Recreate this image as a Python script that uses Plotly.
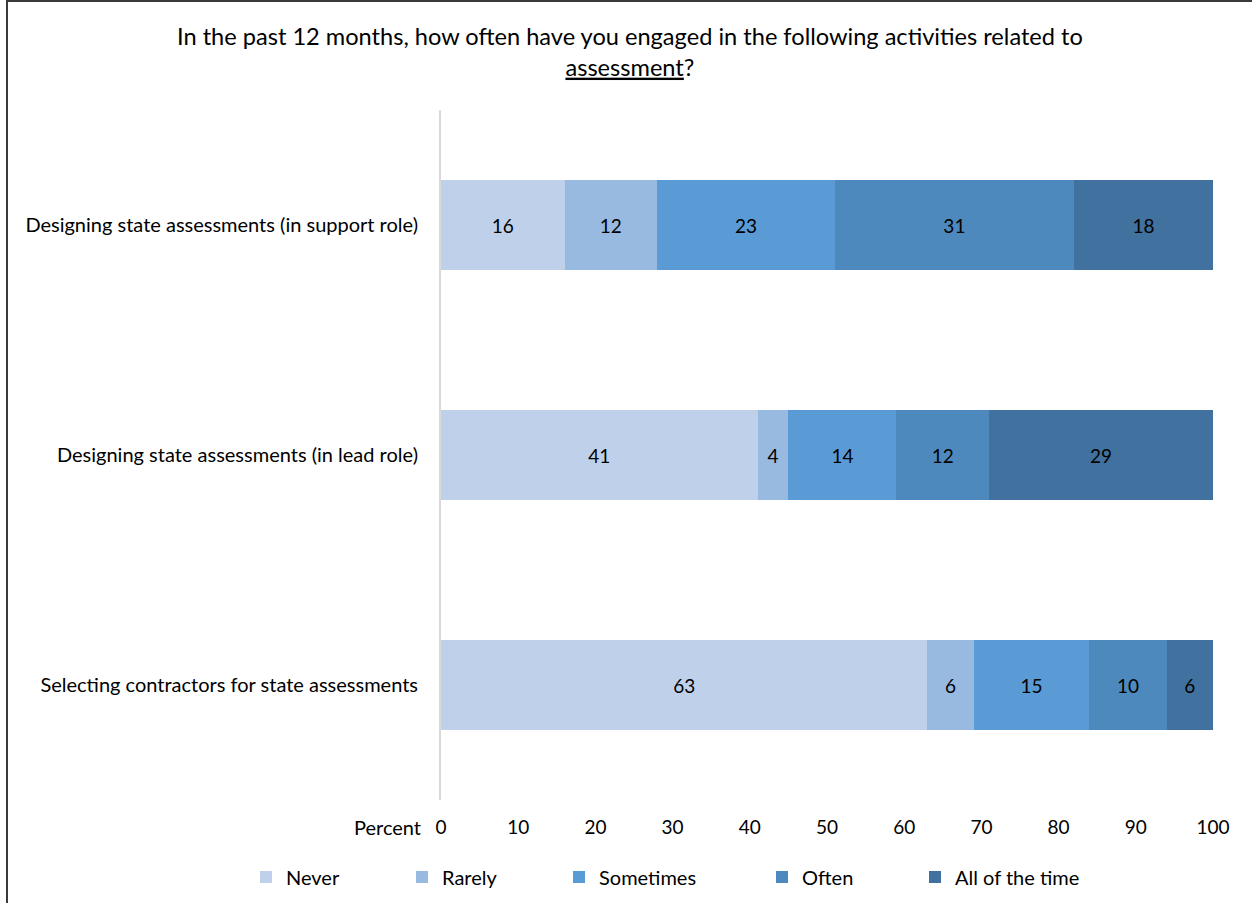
import plotly.graph_objects as go

categories = [
    "Designing state assessments (in support role)",
    "Designing state assessments (in lead role)",
    "Selecting contractors for state assessments",
]
series_names = ["Never", "Rarely", "Sometimes", "Often", "All of the time"]
never = [16, 41, 63]
rarely = [12, 4, 6]
sometimes = [23, 14, 15]
often = [31, 12, 10]
all_time = [18, 29, 6]
tick_values = [0, 10, 20, 30, 40, 50, 60, 70, 80, 90, 100]

series_values = [never, rarely, sometimes, often, all_time]
colors = ["#BFD1EA", "#98B9E0", "#5B9BD5", "#4E89BD", "#41729F"]

W, H = 1252, 903
L, R, T, B = 441, 39, 110, 103
PW = W - L - R
PH = H - T - B

def px_x(p):
    return (p - L) / PW

def px_y(p):
    return 1 + (T - p) / PH

FONT = "Lato"
TXT = 20
NUM = 19

fig = go.Figure()
legend_text_x = [286, 442, 599, 802, 955]
for i, (name, vals, col) in enumerate(zip(series_names, series_values, colors)):
    lg = "legend" if i == 0 else f"legend{i+1}"
    fig.add_trace(go.Bar(
        y=categories, x=vals, name=name, orientation="h",
        marker=dict(color=col, line=dict(width=0)),
        text=[str(v) for v in vals], textposition="inside",
        insidetextanchor="middle", textangle=0,
        textfont=dict(family=FONT, size=NUM, color="#000000"),
        legend=lg, hoverinfo="x+name",
    ))

layout_legends = {}
for i, tx in enumerate(legend_text_x):
    key = "legend" if i == 0 else f"legend{i+1}"
    layout_legends[key] = dict(
        x=px_x(tx - 40), xanchor="left", y=px_y(877), yanchor="middle",
        orientation="h", bgcolor="rgba(0,0,0,0)", borderwidth=0,
        font=dict(family=FONT, size=TXT, color="#000000"),
    )

fig.update_layout(
    width=W, height=H,
    margin=dict(l=L, r=R, t=T, b=B, autoexpand=False),
    barmode="stack", bargap=0.61,
    plot_bgcolor="white", paper_bgcolor="white",
    font=dict(family=FONT, size=TXT, color="#000000"),
    uniformtext=dict(minsize=NUM, mode="show"),
    showlegend=True,
    xaxis=dict(range=[0, 100], tickvals=tick_values, showgrid=False, zeroline=False,
               showline=False, ticks="", ticklabelstandoff=14,
               tickfont=dict(family=FONT, size=NUM, color="#000000"),
               fixedrange=True),
    yaxis=dict(categoryorder="array", categoryarray=categories, autorange="reversed",
               showgrid=False, zeroline=False, showline=True, linecolor="#D9D9D9", linewidth=2,
               ticks="", ticklabelstandoff=17,
               tickfont=dict(family=FONT, size=TXT, color="#000000"), fixedrange=True),
    annotations=[
        dict(text="In the past 12 months, how often have you engaged in the following activities related to<br><u>assessment</u>?",
             xref="paper", yref="paper", x=px_x(630), y=px_y(20), xanchor="center", yanchor="top",
             showarrow=False, align="center", font=dict(family=FONT, size=23.6, color="#000000")),
        dict(text="Percent", xref="paper", yref="paper", x=px_x(423), y=px_y(827),
             xanchor="right", yanchor="middle", showarrow=False,
             font=dict(family=FONT, size=TXT, color="#000000")),
    ],
    shapes=[
        dict(type="line", xref="paper", yref="paper", x0=px_x(7), x1=px_x(W + 5), y0=px_y(1), y1=px_y(1),
             line=dict(color="#3A3A3A", width=2)),
        dict(type="line", xref="paper", yref="paper", x0=px_x(7), x1=px_x(7), y0=px_y(0), y1=px_y(H + 5),
             line=dict(color="#3A3A3A", width=2)),
    ],
    **layout_legends,
)

fig.write_html(
    "out.html",
    config={"displayModeBar": False},
    post_script="document.body.style.margin='0';document.body.style.padding='0';document.body.style.overflow='hidden';",
)
